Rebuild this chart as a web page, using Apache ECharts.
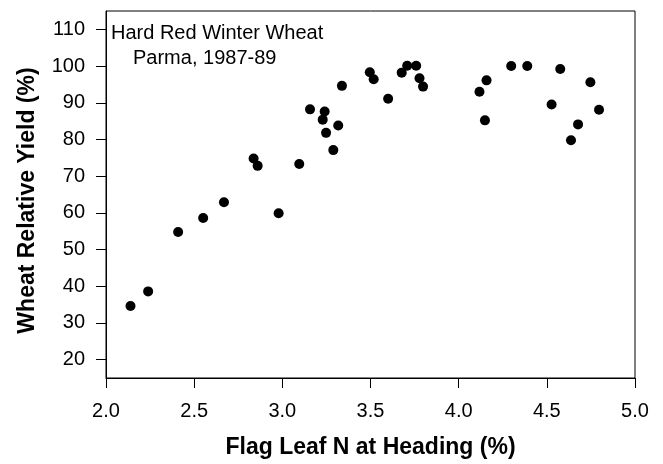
<!DOCTYPE html>
<html>
<head>
<meta charset="utf-8">
<script src="https://cdn.jsdelivr.net/npm/echarts@6/dist/echarts.min.js"></script>
<style>
  html, body { margin: 0; padding: 0; background: #fff; }
  #chart { width: 663px; height: 464px; }
</style>
</head>
<body>
<div id="chart"></div>
<script>
// Flag leaf N concentration at heading (%)
const flagLeafN = [
  2.139, 2.239, 2.409, 2.551, 2.669, 2.979,
  2.837, 2.860, 3.096, 3.157, 3.240, 3.229, 3.248, 3.317, 3.289, 3.338,
  3.496, 3.518, 3.600, 3.677, 3.708, 3.759, 3.778, 3.798,
  4.118, 4.158, 4.149, 4.298, 4.389, 4.527, 4.576, 4.637, 4.677, 4.747, 4.796
];
// Relative grain yield (%)
const relativeYield = [
  34.6, 38.6, 54.8, 58.6, 62.9, 59.9,
  74.8, 72.8, 73.3, 88.2, 87.6, 85.4, 81.8, 83.8, 77.1, 94.6,
  98.3, 96.4, 91.1, 98.2, 100.1, 100.1, 96.7, 94.4,
  93.0, 96.1, 85.2, 100.0, 100.0, 89.5, 99.2, 79.8, 84.1, 95.6, 88.1
];
const yTicks = [20, 30, 40, 50, 60, 70, 80, 90, 100, 110];
const xTicks = [2.0, 2.5, 3.0, 3.5, 4.0, 4.5, 5.0];
const noteLines = ['Hard Red Winter Wheat', 'Parma, 1987-89'];

const points = flagLeafN.map((x, i) => [x, relativeYield[i]]);
const FONT = '"Liberation Sans", Arial, sans-serif';

const chart = echarts.init(document.getElementById('chart'), null, { renderer: 'canvas' });
chart.setOption({
  animation: false,
  backgroundColor: '#ffffff',
  grid: {
    left: 106, right: 28, top: 11, bottom: 83,
    show: true, borderColor: '#000', borderWidth: 1, backgroundColor: 'transparent'
  },
  xAxis: {
    type: 'value',
    min: 2, max: 5,
    name: 'Flag Leaf N at Heading (%)',
    nameLocation: 'middle',
    nameGap: 58,
    nameTextStyle: { fontFamily: FONT, fontWeight: 'bold', fontSize: 23, color: '#000' },
    axisLine: { show: true, onZero: false, lineStyle: { color: '#000', width: 1 } },
    axisTick: { show: true, inside: false, length: 10, lineStyle: { color: '#000' }, customValues: xTicks },
    axisLabel: {
      customValues: xTicks,
      formatter: v => Number(v).toFixed(1),
      fontFamily: FONT, fontSize: 20, color: '#000', margin: 23
    },
    splitLine: { show: false }
  },
  yAxis: {
    type: 'value',
    min: 15, max: 115,
    name: 'Wheat Relative Yield (%)',
    nameLocation: 'middle',
    nameGap: 67,
    nameTextStyle: {
      fontFamily: FONT, fontWeight: 'bold', fontSize: 23, color: '#000',
      padding: [0, 12, 0, 0]
    },
    axisLine: { show: true, onZero: false, lineStyle: { color: '#000', width: 1 } },
    axisTick: { show: true, inside: false, length: 10, lineStyle: { color: '#000' }, customValues: yTicks },
    axisLabel: {
      customValues: yTicks,
      fontFamily: FONT, fontSize: 20, color: '#000', margin: 21
    },
    splitLine: { show: false }
  },
  graphic: [
    {
      type: 'text', left: 111, top: 23,
      style: { text: noteLines[0], fontFamily: FONT, fontSize: 20, fill: '#000' }
    },
    {
      type: 'text', left: 133, top: 48,
      style: { text: noteLines[1], fontFamily: FONT, fontSize: 20, fill: '#000' }
    }
  ],
  series: [{
    type: 'scatter',
    data: points,
    symbol: 'circle',
    symbolSize: 10,
    itemStyle: { color: '#000', opacity: 1 },
    silent: true
  }]
});
</script>
</body>
</html>
